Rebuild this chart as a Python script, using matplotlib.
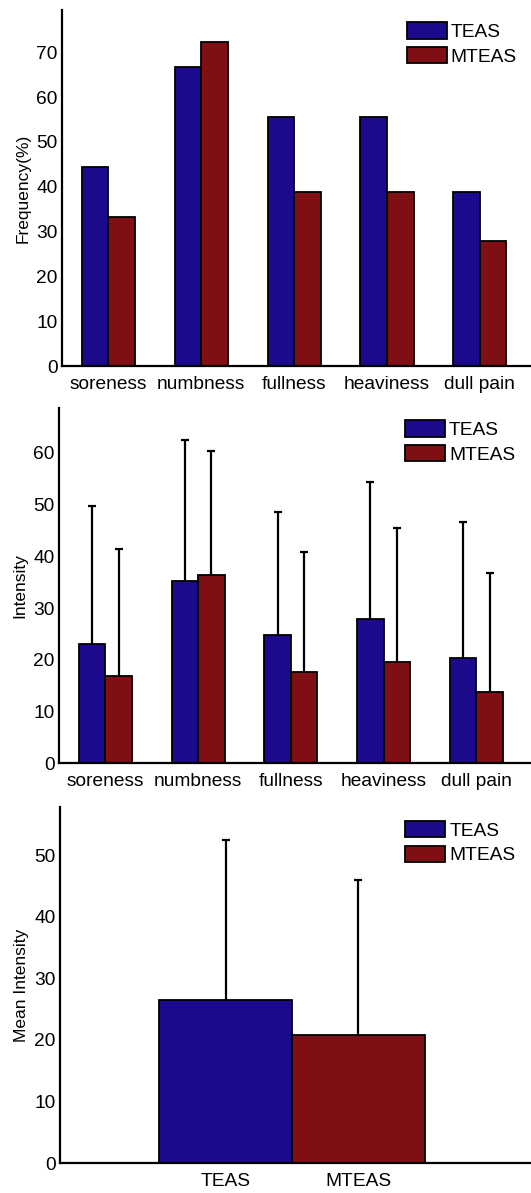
import numpy as np
import matplotlib.pyplot as plt

plt.rcParams['font.family'] = ['Liberation Sans', 'DejaVu Sans']

symptoms = ['soreness', 'numbness', 'fullness', 'heaviness', 'dull pain']
groups = ['TEAS', 'MTEAS']

# frequency of each sensation (%)
freq_teas = [44.4, 66.7, 55.6, 55.6, 38.9]
freq_mteas = [33.3, 72.2, 38.9, 38.9, 27.8]

# intensity of each sensation, mean and SD
int_teas = [23.1, 35.3, 24.7, 27.9, 20.4]
int_teas_sd = [26.6, 27.2, 23.8, 26.5, 26.3]
int_mteas = [16.8, 36.4, 17.7, 19.6, 13.7]
int_mteas_sd = [24.6, 24.0, 23.1, 25.9, 23.1]

# overall mean intensity and SD
mean_int = [26.4, 20.8]
mean_int_sd = [26.1, 25.1]

blue = '#1b0a8c'
red = '#7f0f12'
fs = 13.8

fig = plt.figure(figsize=(5.31, 11.93), dpi=100)


def style_axes(ax):
    for side in ['top', 'right']:
        ax.spines[side].set_visible(False)
    for side in ['left', 'bottom']:
        ax.spines[side].set_linewidth(1.6)
    ax.tick_params(length=0, labelsize=fs)
    ax.tick_params(axis='y', pad=3)
    ax.tick_params(axis='x', pad=7)


def add_legend(ax, x, y):
    ax.legend(loc='upper left', bbox_to_anchor=(x, y), frameon=False,
              fontsize=fs, handlelength=2.1, handleheight=0.92,
              handletextpad=0.2, labelspacing=0.3, borderpad=0,
              borderaxespad=0)


def upper_errors(ax, xpos, means, sds):
    # one-sided (upper) SD whiskers with a cap on top only
    means = np.asarray(means)
    sds = np.asarray(sds)
    ax.errorbar(xpos, means, yerr=[np.zeros(len(means)), sds], fmt='none',
                ecolor='black', elinewidth=1.6, capsize=0)
    ax.plot(xpos, means + sds, ls='none', marker='_', ms=6, mew=1.6, color='black')


x = np.arange(1, 6)
w = 0.286
bar_kw = dict(edgecolor='black', linewidth=1.3)

# frequency
ax1 = fig.add_axes([0.1168, 0.6932, 1 - 0.1168, 0.9916 - 0.6932])
ax1.bar(x - w / 2, freq_teas, w, color=blue, label=groups[0], **bar_kw)
ax1.bar(x + w / 2, freq_mteas, w, color=red, label=groups[1], **bar_kw)
ax1.set_xlim(0.5, 5.55)
ax1.set_ylim(0, 79.4)
ax1.set_yticks(range(0, 71, 10))
ax1.set_xticks(x)
ax1.set_xticklabels(symptoms)
ax1.set_ylabel('Frequency(%)', fontsize=12.5, labelpad=4)
style_axes(ax1)
add_legend(ax1, 0.735, 0.965)

# intensity
ax2 = fig.add_axes([0.111, 0.3604, 1 - 0.111, 0.658 - 0.3604])
ax2.bar(x - w / 2, int_teas, w, color=blue, label=groups[0], **bar_kw)
ax2.bar(x + w / 2, int_mteas, w, color=red, label=groups[1], **bar_kw)
upper_errors(ax2, x - w / 2, int_teas, int_teas_sd)
upper_errors(ax2, x + w / 2, int_mteas, int_mteas_sd)
ax2.set_xlim(0.5, 5.59)
ax2.set_ylim(0, 68.7)
ax2.set_yticks(range(0, 61, 10))
ax2.set_xticks(x)
ax2.set_xticklabels(symptoms)
ax2.set_ylabel('Intensity', fontsize=12.5, labelpad=4)
style_axes(ax2)
add_legend(ax2, 0.733, 0.965)

# mean intensity
xm = np.arange(2)
ax3 = fig.add_axes([0.113, 0.0251, 1 - 0.113, 0.3236 - 0.0251])
ax3.bar(xm[0], mean_int[0], 1.0, color=blue, label=groups[0], **bar_kw)
ax3.bar(xm[1], mean_int[1], 1.0, color=red, label=groups[1], **bar_kw)
upper_errors(ax3, xm, mean_int, mean_int_sd)
ax3.set_xlim(-1.247, 2.30)
ax3.set_ylim(0, 57.8)
ax3.set_yticks(range(0, 51, 10))
ax3.set_xticks(xm)
ax3.set_xticklabels(groups)
ax3.set_ylabel('Mean Intensity', fontsize=12.5, labelpad=4)
style_axes(ax3)
add_legend(ax3, 0.733, 0.96)

fig.savefig('out.png', dpi=100)
